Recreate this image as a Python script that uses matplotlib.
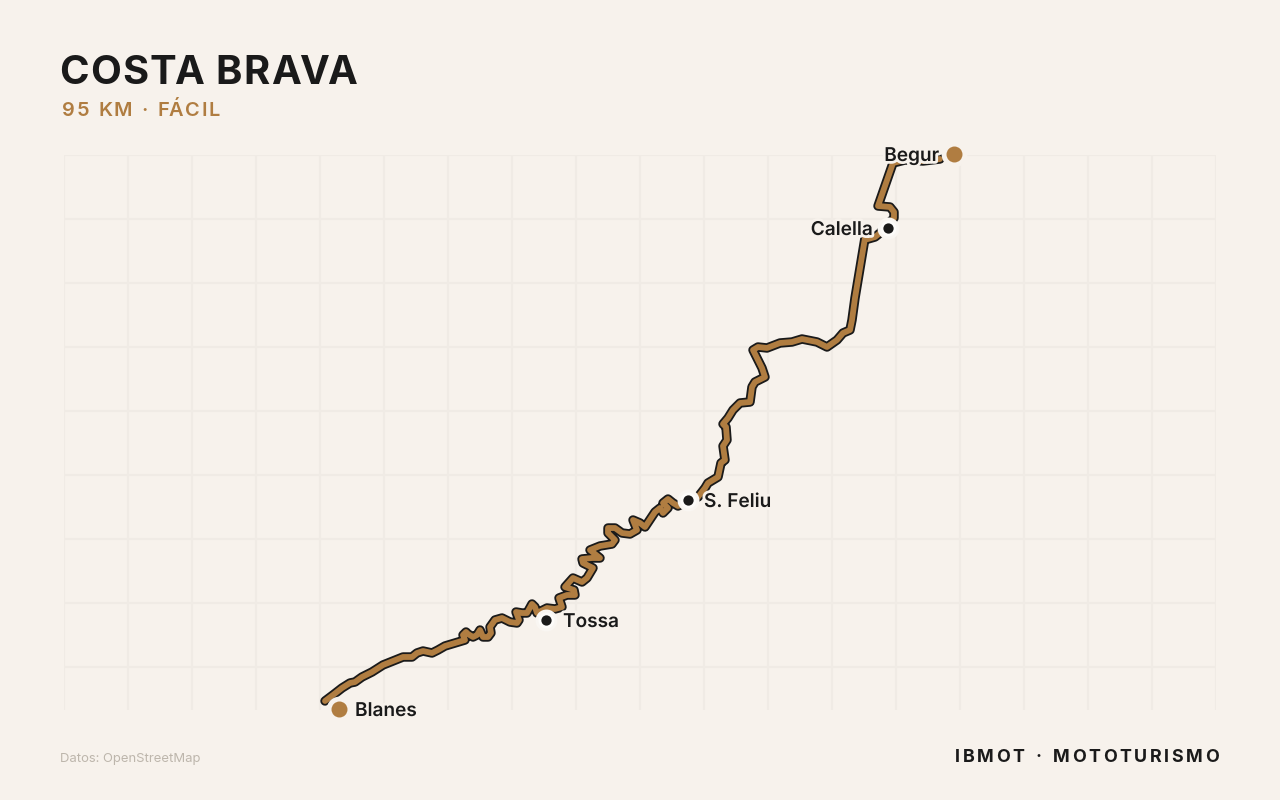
import matplotlib
matplotlib.use("Agg")
import matplotlib.pyplot as plt
import matplotlib.patheffects as pe
from matplotlib.text import Text
from matplotlib.transforms import IdentityTransform

# Route in map units (east, north)
route_east = [261,269,278,286,291,298,308,319,329,339,348,353,359,368,374,381,391,401,399,402,404,409,413,416,419,
              424,427,426,431,438,446,453,455,452,458,463,468,471,473,
              483,491,498,495,503,511,510,501,509,518,523,529,519,518,528,536,526,536,548,551,544,544,551,558,
              566,573,569,576,581,591,596,599,604,599,604,609,614,
              634,641,644,654,657,661,659,663,662,659,664,669,676,686,688,691,701,698,693,689,694,703,716,728,
              738,753,763,773,779,786,788,
              791,801,804,811,816,822,830,830,826,814,829,841,859,876]
route_north = [9,15,22,27,28,33,38,45,49,53,53,57,59,57,60,64,67,70,75,78,76,73,75,80,73,
               73,77,83,90,92,88,87,90,98,97,97,106,103,97,
               102,101,103,112,115,115,120,123,132,128,132,142,147,151,152,152,160,164,166,170,177,182,182,177,
               176,180,190,187,183,198,202,197,202,207,211,207,204,
               213,222,227,233,247,250,264,270,283,286,292,300,307,308,323,328,333,342,352,360,363,362,367,368,
               371,368,363,370,377,380,390,
               412,472,471,473,477,484,492,498,503,504,547,550,549,551]

stops = ["Blanes", "Tossa", "S. Feliu", "Calella", "Begur"]
stop_east = [275, 482, 624, 824, 890]
stop_north = [1, 90, 210, 482, 556]
stop_major = [True, False, False, False, True]
label_side = ["right", "right", "right", "left", "left"]

BG = "#f7f2ec"
INK = "#1a1a1a"
BROWN = "#b07d41"
GRID = "#f0ebe5"
plt.rcParams["font.family"] = ["Inter", "Noto Sans", "DejaVu Sans"]

KERN = {"TA": -0.07, "AV": -0.07, "VA": -0.07, "FÁ": -0.08}


class TrackedText(Text):
    """A single text whose glyphs are drawn with letter spacing and pair kerning."""

    def __init__(self, *args, tracking=0.0, word_extra=0.0, **kw):
        super().__init__(*args, **kw)
        self._tracking = tracking
        self._word_extra = word_extra

    def draw(self, renderer):
        s = self.get_text()
        x0, y0 = self.get_transform().transform(self.get_position())
        fp = self.get_fontproperties()
        em = fp.get_size_in_points() / 0.72
        width = lambda t: renderer.get_text_width_height_descent(t, fp, False)[0]
        shift = 0.0
        for i, ch in enumerate(s):
            if i:
                shift += self._tracking + KERN.get(s[i - 1:i + 1], 0.0) * em
                if s[i - 1] == " ":
                    shift += self._word_extra
            w = width(s[:i + 1]) - width(ch)
            t = Text(x0 + w + shift, y0, ch, color=self.get_color(),
                     fontproperties=fp, ha="left", va="baseline",
                     transform=IdentityTransform())
            t.set_figure(self.get_figure())
            t.draw(renderer)


W, H = 1280, 800
fig = plt.figure(figsize=(12.8, 8), dpi=100, facecolor=BG)
ax = fig.add_axes([64 / W, (H - 710) / H, 1152 / W, 555 / H], facecolor=BG)
ax.set_xlim(0, 1152)
ax.set_ylim(0, 555)
for s in ax.spines.values():
    s.set_visible(False)
ax.set_xticks(range(0, 1153, 64))
ax.set_yticks(range(43, 556, 64))
ax.tick_params(length=0, labelbottom=False, labelleft=False)
ax.grid(True, color=GRID, lw=1.5)
ax.set_axisbelow(True)

ax.plot(route_east, route_north, color=INK, lw=6.8, solid_capstyle="round",
        solid_joinstyle="round", zorder=3, clip_on=False)
ax.plot(route_east, route_north, color=BROWN, lw=4.2, solid_capstyle="round",
        solid_joinstyle="round", zorder=4, clip_on=False)

for name, e, n, major, side in zip(stops, stop_east, stop_north, stop_major, label_side):
    # halo, then the dot itself
    if major:
        ax.plot(e, n, "o", ms=18.5, mfc=BG, mec="none", zorder=5, clip_on=False)
    else:
        ax.plot(e, n, "o", ms=15.8, mfc="#f9f6f2", mec="none", zorder=5, clip_on=False)
        ax.plot(e, n, "o", ms=11.5, mfc="#fdfcfa", mec="none", zorder=5, clip_on=False)
    ax.plot(e, n, "o", ms=11.5 if major else 7.4, mfc=BROWN if major else INK, mec="none",
            zorder=6, clip_on=False)
    off = {"Blanes": 16, "Tossa": 17, "S. Feliu": 16, "Calella": 15, "Begur": 15}[name]
    ax.annotate(name, (e, n), xytext=(off * 0.72 * (1 if side == "right" else -1), 0),
                textcoords="offset points", ha="left" if side == "right" else "right",
                va="center_baseline", fontsize=13.7, fontweight=600, color=INK, zorder=7,
                path_effects=[pe.withStroke(linewidth=4, foreground=BG)],
                annotation_clip=False)

def px(x, y):
    return x / W, 1 - y / H

for args, kw in [
    ((59, 84, "COSTA BRAVA"), dict(fontsize=28.8, fontweight="bold", color=INK, tracking=1.15)),
    ((62, 116, "95 KM · FÁCIL"), dict(fontsize=14.4, fontweight=600, color=BROWN, tracking=1.6, word_extra=1.0)),
    ((955, 762, "IBMOT · MOTOTURISMO"), dict(fontsize=12.9, fontweight="bold", color=INK, tracking=2.6, word_extra=1.6)),
]:
    x, y, s = args
    fx, fy = px(x, y)
    fig.add_artist(TrackedText(fx, fy, s, transform=fig.transFigure, **kw))
fig.text(*px(60, 762), "Datos: OpenStreetMap", fontsize=9.36, color="#bdb6ac", ha="left", va="baseline")

fig.savefig("out.png", dpi=100, facecolor=BG)
